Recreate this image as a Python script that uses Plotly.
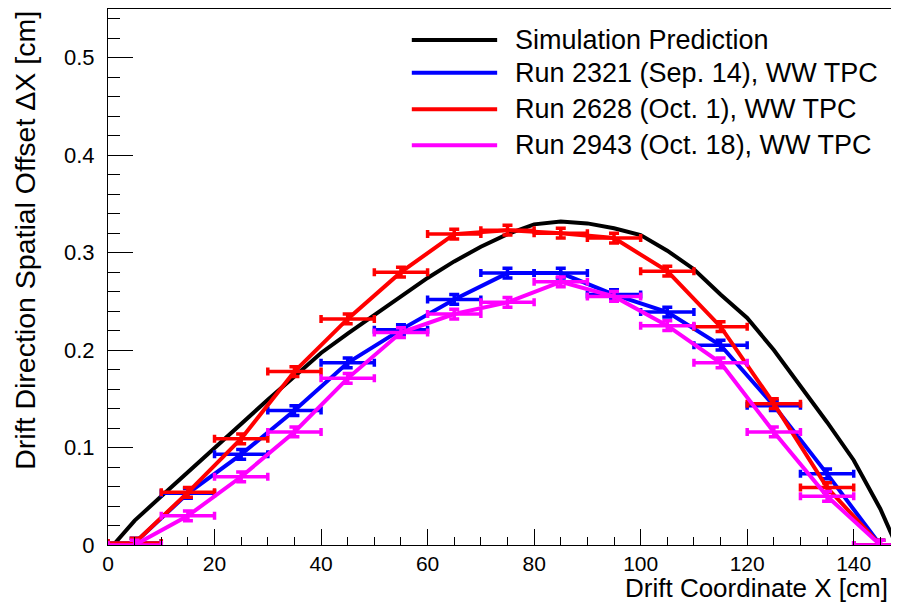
import plotly.graph_objects as go

# bin centres of the drift coordinate (cm), bin width 10 cm
x_bins = [5, 15, 25, 35, 45, 55, 65, 75, 85, 95, 105, 115, 125, 135, 145]
x_half = [5] * len(x_bins)

run_2321 = [0.002, 0.053, 0.093, 0.138, 0.187, 0.221, 0.252, 0.279, 0.279, 0.257,
            0.239, 0.205, 0.143, 0.073, 0.0]
run_2628 = [0.002, 0.054, 0.109, 0.178, 0.232, 0.280, 0.319, 0.323, 0.320, 0.315,
            0.281, 0.224, 0.145, 0.059, 0.0]
run_2943 = [0.0, 0.030, 0.070, 0.116, 0.171, 0.218, 0.237, 0.249, 0.270, 0.255,
            0.225, 0.187, 0.116, 0.050, 0.0]
y_err = [0.005] * len(x_bins)

# simulation prediction curve
sim_x = [1, 5, 10, 15, 20, 25, 30, 35, 40, 45, 50, 55, 60, 65, 70, 75, 80, 85, 90,
         95, 100, 105, 110, 115, 120, 125, 130, 135, 140, 145, 148]
sim_y = [0.0, 0.025, 0.050, 0.075, 0.100, 0.125, 0.149, 0.173, 0.197, 0.217, 0.236,
         0.256, 0.274, 0.291, 0.306, 0.319, 0.329, 0.332, 0.330, 0.325, 0.318, 0.302,
         0.283, 0.257, 0.233, 0.200, 0.163, 0.126, 0.087, 0.037, 0.0]

names = ["Simulation Prediction",
         "Run 2321 (Sep. 14), WW TPC",
         "Run 2628 (Oct. 1), WW TPC",
         "Run 2943 (Oct. 18), WW TPC"]
colors = ["#000000", "#0000ff", "#ff0000", "#ff00ff"]

FONT = "Liberation Sans, Arial, Helvetica, sans-serif"

fig = go.Figure()
fig.add_trace(go.Scatter(x=sim_x, y=sim_y, mode="lines", name=names[0],
                         line=dict(color=colors[0], width=4), showlegend=False))

for name, col, vals in zip(names[1:], colors[1:], [run_2321, run_2628, run_2943]):
    fig.add_trace(go.Scatter(
        x=x_bins, y=vals, mode="lines", name=name, showlegend=False,
        line=dict(color=col, width=4),
        error_x=dict(type="data", array=x_half, color=col, thickness=3.5, width=4),
        error_y=dict(type="data", array=y_err, color=col, thickness=3.5, width=5),
    ))

# ROOT-style legend drawn by hand (long line samples)
leg_y = [0.942, 0.881, 0.813, 0.746]
for name, col, yy in zip(names, colors, leg_y):
    fig.add_shape(type="line", xref="paper", yref="paper", x0=0.388, x1=0.497,
                  y0=yy, y1=yy, line=dict(color=col, width=4))
    fig.add_annotation(text=name, xref="paper", yref="paper", x=0.517, y=yy,
                       xanchor="left", yanchor="middle", showarrow=False,
                       font=dict(size=27, color="black", family=FONT))

# axis titles, right/top aligned as in ROOT
fig.add_annotation(text="Drift Coordinate X [cm]", xref="paper", yref="paper",
                   x=0.997, y=-0.080, xanchor="right", yanchor="middle",
                   showarrow=False, borderpad=0,
                   font=dict(size=26, color="black", family=FONT))
fig.add_annotation(text="Drift Direction Spatial Offset \u0394X [cm]", xref="paper",
                   yref="paper", x=-0.107, y=1.0, xanchor="center", yanchor="top",
                   textangle=-90, showarrow=False,
                   font=dict(size=28.5, color="black", family=FONT))

fig.update_xaxes(range=[0, 147.0], dtick=20, tick0=0, ticks="inside", ticklen=16,
                 tickwidth=1, tickcolor="black", showline=True, linecolor="black",
                 linewidth=1, mirror=True, showgrid=False, zeroline=False,
                 ticklabelstandoff=0,
                 tickfont=dict(size=21, family=FONT, color="black"),
                 minor=dict(dtick=5, ticks="inside", ticklen=8, tickcolor="black",
                            showgrid=False))
fig.update_yaxes(range=[0, 0.550], dtick=0.1, tick0=0, ticks="inside", ticklen=25,
                 tickwidth=1, tickcolor="black", showline=True, linecolor="black",
                 linewidth=1, mirror=False, showgrid=False, zeroline=False,
                 ticklabelstandoff=8,
                 tickfont=dict(size=22, family=FONT, color="black"),
                 minor=dict(dtick=0.02, ticks="inside", ticklen=12, tickcolor="black",
                            showgrid=False))

# page body has an 8px margin, so keep the figure inside the window
fig.update_layout(width=883, height=594, plot_bgcolor="white", paper_bgcolor="white",
                  margin=dict(l=100, r=0, t=1, b=57), showlegend=False,
                  font=dict(family=FONT, color="black"))

fig.write_html("out.html")
